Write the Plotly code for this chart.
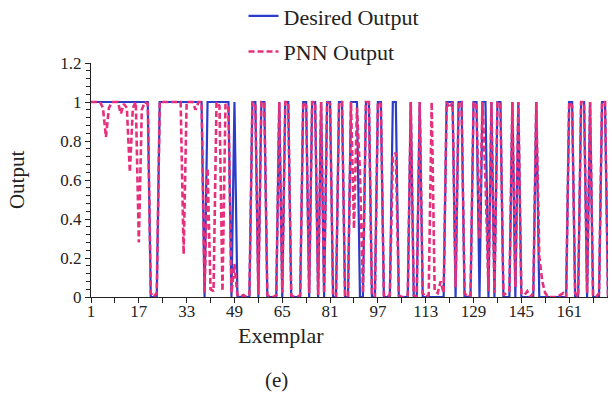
import plotly.graph_objects as go

exemplar = list(range(1, 175))

desired_output = [
    1, 1, 1, 1, 1, 1, 1, 1, 1, 1,
    1, 1, 1, 1, 1, 1, 1, 1, 1, 1,
    0, 0, 0, 1, 1, 1, 1, 1, 1, 1,
    1, 1, 1, 1, 1, 1, 1, 1, 0, 1,
    1, 1, 1, 1, 1, 1, 1, 0, 1, 0,
    0, 0, 0, 0, 1, 1, 0, 1, 1, 0,
    0, 0, 0, 1, 0, 1, 1, 0, 0, 0,
    0, 1, 1, 0, 1, 1, 0, 1, 0, 1,
    1, 0, 0, 1, 1, 0, 0, 1, 1, 1,
    0, 0, 1, 1, 0, 0, 1, 1, 0, 0,
    0, 1, 1, 0, 0, 0, 0, 1, 0, 0,
    1, 0, 0, 0, 0, 0, 0, 0, 0, 1,
    1, 1, 0, 1, 1, 0, 0, 0, 1, 1,
    0, 1, 1, 0, 1, 0, 1, 1, 0, 0,
    0, 1, 0, 1, 0, 0, 0, 0, 0, 1,
    0, 0, 0, 0, 0, 0, 0, 0, 0, 0,
    1, 1, 0, 0, 1, 1, 0, 1, 0, 0,
    0, 1, 1, 0,
]

pnn_output = [
    1.00, 1.00, 1.00, 1.00, 0.97, 0.82, 0.97, 1.00, 1.00, 1.00,
    0.94, 0.99, 0.97, 0.64, 0.97, 1.00, 0.28, 0.96, 1.00, 0.99,
    0.02, 0.00, 0.02, 1.00, 1.00, 1.00, 1.00, 1.00, 1.00, 1.00,
    1.00, 0.22, 1.00, 1.00, 1.00, 0.96, 1.00, 1.00, 0.02, 0.66,
    0.04, 0.03, 1.00, 0.98, 0.03, 0.99, 0.97, 0.02, 0.17, 0.01,
    0.00, 0.01, 0.00, 0.01, 1.00, 0.99, 0.01, 1.00, 1.00, 0.01,
    0.00, 0.00, 0.01, 1.00, 0.02, 1.00, 1.00, 0.01, 0.00, 0.00,
    0.01, 1.00, 0.98, 0.02, 1.00, 1.00, 0.01, 1.00, 0.02, 1.00,
    0.99, 0.01, 0.00, 1.00, 1.00, 0.01, 0.00, 1.00, 0.35, 0.97,
    0.64, 0.02, 1.00, 1.00, 0.01, 0.00, 1.00, 0.99, 0.01, 0.00,
    0.01, 0.72, 0.74, 0.01, 0.00, 0.00, 0.01, 1.00, 0.01, 0.00,
    1.00, 0.02, 0.00, 0.01, 1.00, 0.03, 0.02, 0.08, 0.02, 1.00,
    0.97, 1.00, 0.05, 1.00, 1.00, 0.02, 0.00, 0.01, 1.00, 0.98,
    0.30, 1.00, 0.60, 0.03, 1.00, 0.02, 1.00, 0.99, 0.01, 0.02,
    0.03, 1.00, 0.05, 1.00, 0.02, 0.01, 0.03, 0.00, 0.02, 1.00,
    0.21, 0.08, 0.02, 0.00, 0.00, 0.00, 0.00, 0.01, 0.02, 0.00,
    1.00, 0.98, 0.02, 0.00, 1.00, 1.00, 0.02, 1.00, 0.01, 0.00,
    0.02, 1.00, 1.00, 0.00,
]

x_tick_values = [1, 17, 33, 49, 65, 81, 97, 113, 129, 145, 161]
x_tick_labels = [str(v) for v in x_tick_values]
y_tick_values = [0, 0.2, 0.4, 0.6, 0.8, 1, 1.2]
y_tick_labels = ["0", "0.2", "0.4", "0.6", "0.8", "1", "1.2"]

SERIF = "Liberation Serif, DejaVu Serif"
INK = "#222222"

fig = go.Figure()
fig.add_trace(go.Scatter(
    x=exemplar, y=desired_output, mode="lines", name="Desired Output",
    line=dict(color="#2b3cc9", width=2.2), legendgroup="a",
))
fig.add_trace(go.Scatter(
    x=exemplar, y=pnn_output, mode="lines", name="PNN Output",
    line=dict(color="#e6307c", width=2.6, dash="6px,3px"), legendgroup="b",
))

fig.update_layout(
    width=612, height=415,
    margin=dict(l=91, r=4, t=63, b=118, autoexpand=False),
    paper_bgcolor="white", plot_bgcolor="white",
    font=dict(family=SERIF, color=INK, size=17),
    showlegend=True,
    legend=dict(
        x=0.295, y=1.29, xanchor="left", yanchor="top",
        font=dict(family=SERIF, size=22, color=INK),
        bgcolor="rgba(0,0,0,0)", traceorder="grouped", tracegroupgap=4,
    ),
    xaxis=dict(
        range=[1, 174], tickmode="array", tickvals=x_tick_values, ticktext=x_tick_labels,
        ticks="outside", ticklen=5, tickcolor=INK, ticklabelstandoff=-6,
        minor=dict(tickmode="linear", tick0=1, dtick=8, ticks="outside", ticklen=5, tickcolor=INK),
        showline=True, linecolor=INK, linewidth=1,
        showgrid=False, zeroline=False,
        tickfont=dict(family=SERIF, size=17, color=INK),
    ),
    yaxis=dict(
        range=[0, 1.2], tickmode="array", tickvals=y_tick_values, ticktext=y_tick_labels,
        ticks="outside", ticklen=5, tickcolor=INK,
        minor=dict(tickmode="linear", tick0=0, dtick=0.04, ticks="outside", ticklen=4, tickcolor=INK),
        showline=True, linecolor=INK, linewidth=1,
        showgrid=False, zeroline=False,
        tickfont=dict(family=SERIF, size=17, color=INK),
    ),
    annotations=[
        dict(text="Exemplar", xref="paper", yref="paper", x=0.368, y=-0.165,
             xanchor="center", yanchor="middle", showarrow=False,
             font=dict(family=SERIF, size=22, color=INK)),
        dict(text="(e)", xref="paper", yref="paper", x=0.358, y=-0.355,
             xanchor="center", yanchor="middle", showarrow=False,
             font=dict(family=SERIF, size=21, color=INK)),
        dict(text="Output", xref="paper", yref="paper", x=-0.143, y=0.5,
             xanchor="center", yanchor="middle", showarrow=False, textangle=-90,
             font=dict(family=SERIF, size=21, color=INK)),
    ],
)

fig.write_html("out.html")
